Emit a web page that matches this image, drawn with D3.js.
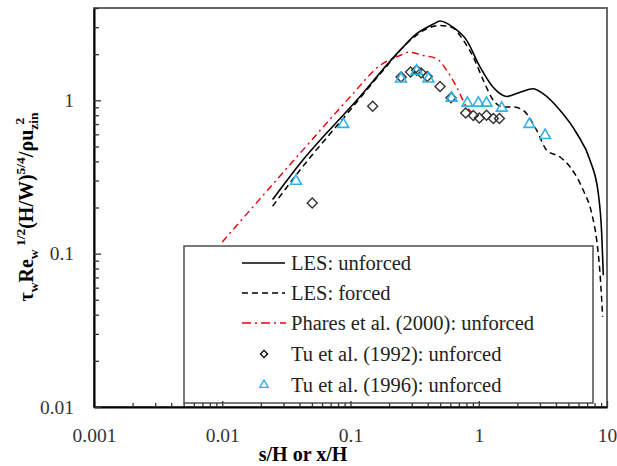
<!DOCTYPE html>
<html><head><meta charset="utf-8">
<script src="https://cdn.jsdelivr.net/npm/d3@7"></script>
<style>body{margin:0;background:#fff}</style>
</head><body>
<svg id="chart" width="617" height="466"></svg>
<script>
// ---- data ----
const lesUnforcedX = [0.0247, 0.0403, 0.1118, 0.243, 0.328, 0.439, 0.499, 0.629, 0.805, 1.023, 1.29, 1.65, 2.10, 2.65, 3.17, 4.30, 5.80, 7.37, 8.55, 9.09, 9.36];
const lesUnforcedY = [0.2255, 0.386, 1.0, 2.117, 2.72, 3.13, 3.29, 3.0, 2.46, 1.65, 1.22, 1.06, 1.13, 1.19, 1.105, 0.861, 0.61, 0.407, 0.248, 0.136, 0.0724];
const lesForcedX = [0.0247, 0.0403, 0.0991, 0.180, 0.291, 0.393, 0.499, 0.615, 0.759, 0.908, 1.086, 1.30, 1.55, 1.86, 2.22, 2.83, 3.39, 4.30, 5.15, 6.53, 7.60, 8.31, 8.82, 9.25];
const lesForcedY = [0.204, 0.35, 0.861, 1.57, 2.46, 2.93, 3.08, 3.0, 2.46, 1.91, 1.35, 1.0, 0.905, 0.905, 0.861, 0.638, 0.472, 0.427, 0.368, 0.259, 0.183, 0.1225, 0.0746, 0.0388];
const pharesX = [0.01, 0.0403, 0.0991, 0.170, 0.243, 0.283, 0.370, 0.470, 0.562, 0.673, 0.805, 0.881];
const pharesY = [0.119, 0.45, 1.05, 1.69, 1.96, 2.06, 1.96, 1.87, 1.57, 1.22, 0.905, 0.839];
const tu1992X = [0.0503, 0.149, 0.248, 0.294, 0.328, 0.355, 0.397, 0.499, 0.608, 0.791, 0.908, 1.01, 1.15, 1.30, 1.45];
const tu1992Y = [0.214, 0.914, 1.42, 1.53, 1.57, 1.51, 1.43, 1.23, 1.04, 0.827, 0.795, 0.767, 0.798, 0.76, 0.76];
const tu1996X = [0.0376, 0.0879, 0.248, 0.328, 0.405, 0.615, 0.815, 0.993, 1.15, 1.51, 2.48, 3.29];
const tu1996Y = [0.297, 0.698, 1.38, 1.55, 1.38, 1.035, 0.96, 0.96, 0.96, 0.891, 0.698, 0.591];
const xTickLabels = ["0.001", "0.01", "0.1", "1", "10"];
const yTickLabels = ["0.01", "0.1", "1"];
const legendLabels = ["LES: unforced", "LES: forced", "Phares et al. (2000): unforced", "Tu et al. (1992): unforced", "Tu et al. (1996): unforced"];

// ---- layout ----
const FONT = "Liberation Serif";
const L = 94, R = 607, T = 8, B = 407;
const svg = d3.select("#chart");
const x = d3.scaleLog().domain([0.001, 10]).range([L, R]);
const y = d3.scaleLog().domain([0.01, 4]).range([B, T]);
const zip = (a, b) => a.map((v, i) => [v, b[i]]);

// frame (top/right)
svg.append("rect").attr("x", L).attr("y", T).attr("width", R - L).attr("height", B - T)
  .attr("fill", "none").attr("stroke", "#595959").attr("stroke-width", 1.8);

// lines
const line = d3.line().x(d => x(d[0])).y(d => y(d[1])).curve(d3.curveMonotoneX);
const g = svg.append("g");
g.append("path").attr("d", line(zip(pharesX, pharesY))).attr("fill", "none")
  .attr("stroke", "#ee0000").attr("stroke-width", 1.4).attr("stroke-dasharray", "7,4,2,4");
g.append("path").attr("d", line(zip(lesForcedX, lesForcedY))).attr("fill", "none")
  .attr("stroke", "#000").attr("stroke-width", 1.5).attr("stroke-dasharray", "6,4");
g.append("path").attr("d", line(zip(lesUnforcedX, lesUnforcedY))).attr("fill", "none")
  .attr("stroke", "#000").attr("stroke-width", 1.6);

// markers
const diamond = d3.symbol().type(d3.symbolSquare).size(50);
const tri = d3.symbol().type(d3.symbolTriangle).size(50);
g.selectAll(".dia").data(zip(tu1992X, tu1992Y)).join("path")
  .attr("d", diamond).attr("transform", d => `translate(${x(d[0])},${y(d[1])}) rotate(45)`)
  .attr("fill", "none").attr("stroke", "#333").attr("stroke-width", 1.4);
g.selectAll(".tri").data(zip(tu1996X, tu1996Y)).join("path")
  .attr("d", tri).attr("transform", d => `translate(${x(d[0])},${y(d[1])})`)
  .attr("fill", "none").attr("stroke", "#2fb2e8").attr("stroke-width", 1.6);

// legend
const lg = svg.append("g");
lg.append("rect").attr("x", 184).attr("y", 246).attr("width", 409).attr("height", 157)
  .attr("fill", "#fff").attr("stroke", "#595959").attr("stroke-width", 1.6);
const rowY = [263, 293, 323, 354, 385];
lg.append("line").attr("x1", 242).attr("x2", 285).attr("y1", rowY[0]).attr("y2", rowY[0]).attr("stroke", "#000").attr("stroke-width", 1.6);
lg.append("line").attr("x1", 242).attr("x2", 285).attr("y1", rowY[1]).attr("y2", rowY[1]).attr("stroke", "#000").attr("stroke-width", 1.5).attr("stroke-dasharray", "6,4");
lg.append("line").attr("x1", 242).attr("x2", 286).attr("y1", rowY[2]).attr("y2", rowY[2]).attr("stroke", "#ee0000").attr("stroke-width", 1.4).attr("stroke-dasharray", "9,4,2,4");
lg.append("path").attr("d", d3.symbol().type(d3.symbolSquare).size(26)).attr("transform", `translate(264,${rowY[3]}) rotate(45)`)
  .attr("fill", "none").attr("stroke", "#000").attr("stroke-width", 1.3);
lg.append("path").attr("d", d3.symbol().type(d3.symbolTriangle).size(30)).attr("transform", `translate(264,${rowY[4]})`)
  .attr("fill", "none").attr("stroke", "#2fb2e8").attr("stroke-width", 1.4);
lg.selectAll(".lt").data(legendLabels).join("text")
  .attr("x", 291).attr("y", (d, i) => rowY[i] + 7).attr("font-size", 20.5).attr("fill", "#222")
  .style("font-family", FONT).text(d => d);

// axes
const xMajor = [0.001, 0.01, 0.1, 1, 10];
const yMajor = [0.01, 0.1, 1];
const isMajor = (arr, d) => arr.some(v => Math.abs(v - d) / v < 1e-6);
const xAxis = svg.append("g").attr("transform", `translate(0,${B})`)
  .call(d3.axisBottom(x).tickValues(x.ticks()).tickSizeInner(-4).tickSizeOuter(0).tickPadding(21)
    .tickFormat(d => { const i = xMajor.findIndex(v => Math.abs(v - d) / v < 1e-6); return i >= 0 ? xTickLabels[i] : ""; }));
xAxis.attr("font-family", null);
xAxis.select(".domain").attr("stroke", "#000").attr("stroke-width", 2);
xAxis.selectAll(".tick line").attr("stroke", "#333").attr("stroke-width", 1.3)
  .attr("y2", d => isMajor(xMajor, d) ? -6 : -4);
xAxis.selectAll(".tick text").attr("font-size", 19.5).attr("fill", "#333").style("font-family", FONT);

const yAxis = svg.append("g").attr("transform", `translate(${L},0)`)
  .call(d3.axisLeft(y).tickValues(y.ticks()).tickSizeInner(-5).tickSizeOuter(0).tickPadding(20)
    .tickFormat(d => { const i = yMajor.findIndex(v => Math.abs(v - d) / v < 1e-6); return i >= 0 ? yTickLabels[i] : ""; }));
yAxis.attr("font-family", null);
yAxis.select(".domain").attr("stroke", "#000").attr("stroke-width", 2);
yAxis.selectAll(".tick line").attr("stroke", "#333").attr("stroke-width", 1.3)
  .attr("x2", d => isMajor(yMajor, d) ? 7 : 5);
yAxis.selectAll(".tick text").attr("font-size", 19.5).attr("fill", "#333").style("font-family", FONT);

// axis titles
svg.append("text").attr("x", 303).attr("y", 461).attr("text-anchor", "middle")
  .attr("font-size", 20).attr("font-weight", "bold").style("font-family", FONT).text("s/H or x/H");

const yt = svg.append("text").attr("transform", "rotate(-90)").attr("x", -207).attr("y", 33)
  .attr("text-anchor", "middle").attr("font-size", 20).attr("font-weight", "bold").style("font-family", FONT);
const parts = [
  ["τ", 0, false], ["w", 5, true], ["Re", -5, false], ["w", 5, true], [" 1/2", -13, true],
  ["(H/W)", 8, false], ["5/4", -8, true], ["/ρu", 8, false], ["zin", 5, true], ["2", -14, true]
];
parts.forEach(([t, dy, small], i) => {
  const sp = yt.append("tspan").attr("dy", dy).text(t);
  if (small) sp.attr("font-size", 13.5);
  if (i === parts.length - 1) sp.attr("dx", -12);
});
</script>
</body></html>
